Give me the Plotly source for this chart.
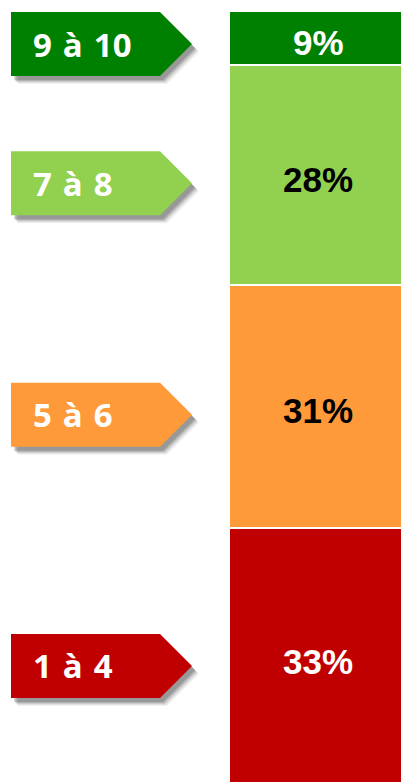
import plotly.graph_objects as go

# notes, from bottom to top of the stacked bar
categories = ['1 à 4', '5 à 6', '7 à 8', '9 à 10']
percents = [33, 31, 28, 9]
colors = ['#C00000', '#FF9A3A', '#92D050', '#008000']
text_colors = ['white', 'black', 'black', 'white']

W, H = 401, 782
TOP = 12
y_lo, y_hi = 0.7, 98.8           # bar is cut at top and bottom
px_per_x = 178.0                  # width of the bar in px
x_lo = -0.5 - 229 / px_per_x
x_hi = x_lo + W / px_per_x
px_per_y = (H - TOP) / (y_hi - y_lo)


def xd(px):
    return x_lo + px / px_per_x


def yd(py):
    return py / px_per_y


fig = go.Figure()

for cat, val, col in zip(categories, percents, colors):
    fig.add_trace(go.Bar(
        x=[0], y=[val], width=1, name=cat,
        marker=dict(color=col, line=dict(color='white', width=2)),
        hoverinfo='skip'))

# arrow tags on the left, percent labels on the bar
half = yd(32)
base = 0
shapes = []
annotations = []
for cat, val, col, tcol in zip(categories, percents, colors, text_colors):
    mid = min(base + val / 2, (base + y_hi) / 2)
    yc = min(base + val / 2 - yd(8), y_hi - half)
    base += val
    x0, x1, x2 = xd(11), xd(160), xd(192)

    def tag(dx, dy):
        return (f'M {x0 + dx},{yc - half - dy} L {x1 + dx},{yc - half - dy} '
                f'L {x2 + dx},{yc - dy} L {x1 + dx},{yc + half - dy} '
                f'L {x0 + dx},{yc + half - dy} Z')

    for k, op in [(7, 0.05), (6, 0.07), (5, 0.09), (4, 0.12), (3, 0.14)]:
        shapes.append(dict(type='path', path=tag(k / px_per_x, yd(k + 1)),
                           xref='x', yref='y', fillcolor='black',
                           opacity=op, line_width=0, layer='above'))
    shapes.append(dict(type='path', path=tag(0, 0), xref='x', yref='y',
                       fillcolor=col, line_width=0, layer='above'))
    annotations.append(dict(
        x=xd(31), y=yc, xref='x', yref='y',
        text='<b>' + cat.replace(' ', '\u2004') + '</b>',
        showarrow=False, xanchor='left', yanchor='middle',
        font=dict(family='Open Sans', size=33, color='white')))
    annotations.append(dict(
        x=0, y=mid - yd(4), xref='x', yref='y', text=f'<b>{val}%</b>',
        showarrow=False, xanchor='center', yanchor='middle',
        font=dict(family='Liberation Sans, Arial', size=35, color=tcol)))

fig.update_layout(
    width=W, height=H, barmode='stack', bargap=0,
    margin=dict(l=0, r=0, t=TOP, b=0),
    plot_bgcolor='white', paper_bgcolor='white',
    showlegend=False,
    xaxis=dict(range=[x_lo, x_hi], visible=False, fixedrange=True),
    yaxis=dict(range=[y_lo, y_hi], visible=False, fixedrange=True),
    shapes=shapes, annotations=annotations)

fig.write_html('out.html', config={'displayModeBar': False},
               post_script="document.body.style.margin='0';")
